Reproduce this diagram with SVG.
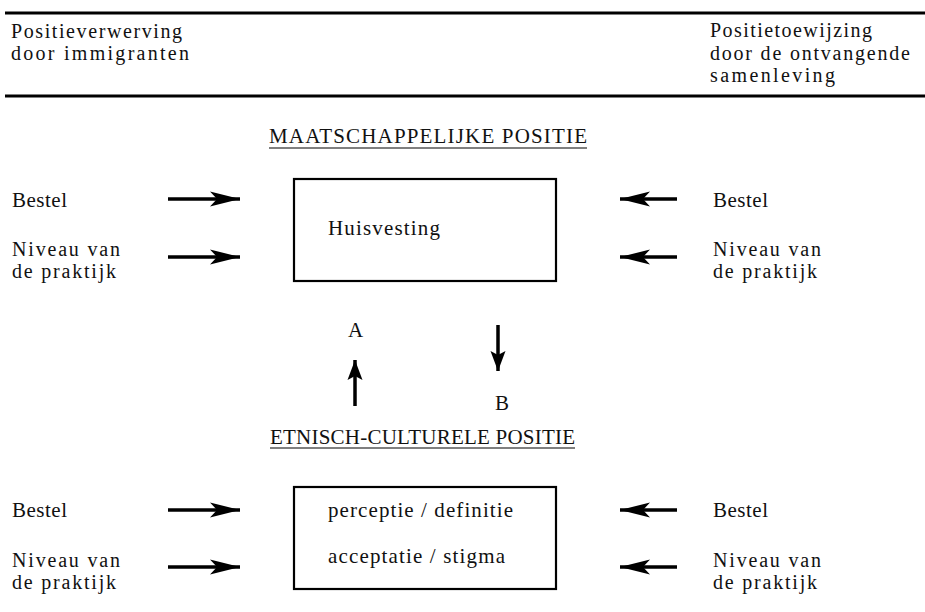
<svg xmlns="http://www.w3.org/2000/svg" width="925" height="612" viewBox="0 0 925 612" font-family="'Liberation Serif', 'Times New Roman', 'DejaVu Serif', serif">
<style>
text{font-family:'Liberation Serif','Times New Roman','DejaVu Serif',serif;font-size:20px;fill:#111}
.big{font-size:21px}
.rule{stroke:#000;stroke-width:3}
.box{fill:#fff;stroke:#000;stroke-width:2.2}
.ul{stroke:#000;stroke-width:1.2}
.arr{stroke:#000;stroke-width:3.5;fill:none}
</style>
<defs>
<marker id="hh" markerUnits="userSpaceOnUse" markerWidth="32" markerHeight="16" refX="30" refY="8" orient="auto" viewBox="0 0 32 16">
<path d="M0,0.5 L30,8 L0,15.5 L7,8 Z" fill="#000"/>
</marker>
<marker id="hv" markerUnits="userSpaceOnUse" markerWidth="22" markerHeight="16" refX="20" refY="8" orient="auto" viewBox="0 0 22 16">
<path d="M0,0.5 L20,8 L0,15.5 L4,8 Z" fill="#000"/>
</marker>
</defs>
<g id="header">
<line class="rule" x1="5" y1="13" x2="925" y2="13"/>
<line class="rule" x1="5" y1="96" x2="925" y2="96"/>
<text x="11" y="38" textLength="171">Positieverwerving</text>
<text x="11" y="60" textLength="178">door immigranten</text>
<text x="710" y="37" textLength="162">Positietoewijzing</text>
<text x="710" y="60" textLength="200">door de ontvangende</text>
<text x="710" y="82" textLength="125">samenleving</text>
</g>
<g id="title-maatschappelijk">
<text class="big" x="269" y="143" textLength="318">MAATSCHAPPELIJKE POSITIE</text>
<line class="ul" x1="269" y1="148" x2="587" y2="148"/>
</g>
<g id="node-huisvesting">
<rect class="box" x="294" y="179" width="262" height="102"/>
<text class="big" x="328" y="235" textLength="112">Huisvesting</text>
</g>
<g id="left-top">
<text class="big" x="12" y="207" textLength="55">Bestel</text>
<text x="12" y="256" textLength="108">Niveau van</text>
<text x="12" y="278" textLength="104">de praktijk</text>
</g>
<g id="right-top">
<text class="big" x="713" y="207" textLength="55">Bestel</text>
<text x="713" y="256" textLength="108">Niveau van</text>
<text x="713" y="278" textLength="104">de praktijk</text>
</g>
<g id="label-A"><text class="big" x="348" y="337" textLength="15">A</text></g>
<g id="label-B"><text class="big" x="495" y="410" textLength="13">B</text></g>
<g id="title-etnisch">
<text class="big" x="270" y="444" textLength="305">ETNISCH-CULTURELE POSITIE</text>
<line class="ul" x1="270" y1="448" x2="575" y2="448"/>
</g>
<g id="node-perceptie">
<rect class="box" x="294" y="487" width="262" height="102"/>
<text class="big" x="328" y="517" textLength="185">perceptie / definitie</text>
<text class="big" x="328" y="563" textLength="177">acceptatie / stigma</text>
</g>
<g id="left-bottom">
<text class="big" x="12" y="517" textLength="55">Bestel</text>
<text x="12" y="567" textLength="108">Niveau van</text>
<text x="12" y="589" textLength="104">de praktijk</text>
</g>
<g id="right-bottom">
<text class="big" x="713" y="517" textLength="55">Bestel</text>
<text x="713" y="567" textLength="108">Niveau van</text>
<text x="713" y="589" textLength="104">de praktijk</text>
</g>
<g id="connectors">
<line class="arr" x1="168" y1="199" x2="240" y2="199" marker-end="url(#hh)"/>
<line class="arr" x1="168" y1="257" x2="240" y2="257" marker-end="url(#hh)"/>
<line class="arr" x1="677" y1="199" x2="620" y2="199" marker-end="url(#hh)"/>
<line class="arr" x1="677" y1="257" x2="620" y2="257" marker-end="url(#hh)"/>
<line class="arr" x1="355" y1="406" x2="355" y2="360" marker-end="url(#hv)"/>
<line class="arr" x1="498" y1="325" x2="498" y2="371" marker-end="url(#hv)"/>
<line class="arr" x1="168" y1="510" x2="240" y2="510" marker-end="url(#hh)"/>
<line class="arr" x1="168" y1="567" x2="240" y2="567" marker-end="url(#hh)"/>
<line class="arr" x1="677" y1="510" x2="620" y2="510" marker-end="url(#hh)"/>
<line class="arr" x1="677" y1="567" x2="620" y2="567" marker-end="url(#hh)"/>
</g>
</svg>
